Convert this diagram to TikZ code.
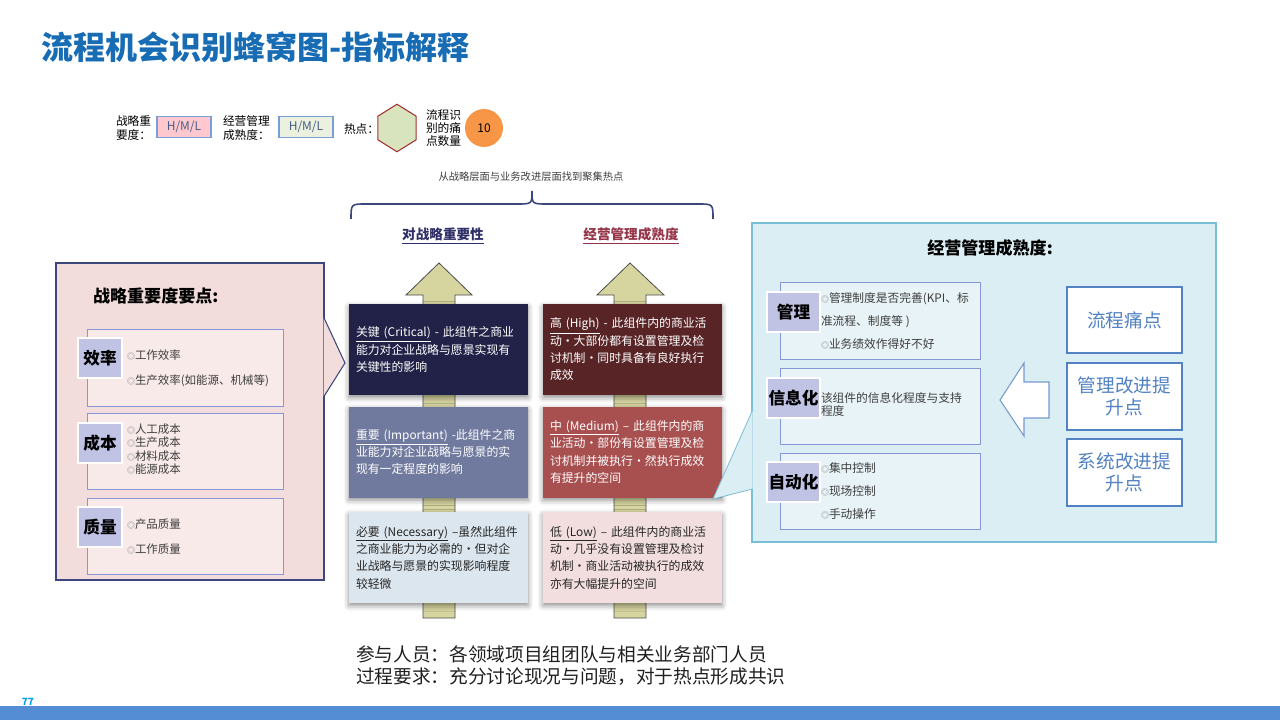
\documentclass[tikz,border=0pt]{standalone}
\usepackage{fontspec}
\setmainfont{Noto Sans CJK SC}
\usepackage{xcolor}
\usetikzlibrary{positioning, shapes.geometric, shadows.blur}
\definecolor{titleblue}{RGB}{24, 108, 180}
\definecolor{barblue}{RGB}{84, 141, 212}
\definecolor{pagecyan}{RGB}{0, 160, 233}
\definecolor{legborder}{RGB}{120, 160, 215}
\definecolor{legtext}{RGB}{70, 95, 135}
\definecolor{impfill}{RGB}{255, 199, 206}
\definecolor{matfill}{RGB}{235, 241, 222}
\definecolor{hexfill}{RGB}{215, 228, 189}
\definecolor{hexedge}{RGB}{165, 50, 50}
\definecolor{hotorange}{RGB}{247, 150, 70}
\definecolor{navybox}{RGB}{34, 34, 72}
\definecolor{slatebox}{RGB}{112, 122, 158}
\definecolor{icebox}{RGB}{219, 230, 238}
\definecolor{maroonbox}{RGB}{88, 36, 38}
\definecolor{redbox}{RGB}{168, 80, 80}
\definecolor{rosebox}{RGB}{242, 222, 222}
\definecolor{navyhead}{RGB}{48, 48, 105}
\definecolor{maroonhead}{RGB}{150, 52, 72}
\definecolor{khaki}{RGB}{214, 213, 160}
\definecolor{pinkpanel}{RGB}{242, 221, 220}
\definecolor{pinkinner}{RGB}{249, 234, 234}
\definecolor{pinkedge}{RGB}{60, 72, 125}
\definecolor{bluepanel}{RGB}{219, 238, 243}
\definecolor{blueinner}{RGB}{231, 243, 247}
\definecolor{blueedge}{RGB}{120, 190, 212}
\definecolor{inneredge}{RGB}{135, 150, 215}
\definecolor{tabfill}{RGB}{192, 195, 228}
\definecolor{pointblue}{RGB}{82, 130, 195}
\definecolor{bodygray}{RGB}{62, 62, 62}
\newdimen\pu \pu=0.75pt
\newcommand\bul{{\color{gray}\fontsize{6}{6}\selectfont ◎}}

\begin{document}
\begin{tikzpicture}[x=0.75pt, y=-0.75pt,
    every node/.style={inner sep=0pt, outer sep=0pt},
    legbox/.style={draw=legborder, line width=0.9pt, minimum width=54\pu, minimum height=21\pu, text=legtext, font=\fontsize{9}{10}\selectfont},
    legtext/.style={anchor=west, align=left, font=\fontsize{8.8}{10}\selectfont},
    level/.style={minimum height=91\pu, text width=165\pu, inner xsep=7\pu, align=left, font=\fontsize{8.9}{13}\selectfont,
        blur shadow={shadow xshift=0pt, shadow yshift=-2pt, shadow blur radius=4pt, shadow opacity=45}},
    uparrow/.style={fill=khaki, draw=black!70, line width=0.6pt},
    inner/.style={draw=inneredge, line width=0.7pt},
    tab/.style={fill=tabfill, draw=white, line width=1.2pt, minimum height=40\pu, font=\fontsize{12.5}{14}\selectfont\bfseries},
    points/.style={anchor=west, align=left, text=bodygray, font=\fontsize{8.6}{18.8}\selectfont},
    headline/.style={font=\fontsize{12.8}{14}\selectfont\bfseries},
    painbox/.style={draw=pointblue, fill=white, line width=0.8pt, minimum width=115\pu, text=pointblue, align=center, font=\fontsize{14}{17}\selectfont}
]
\useasboundingbox (0,0) rectangle (1280,720);

% Title and footer
\node[anchor=west, text=titleblue, font=\fontsize{24}{28}\selectfont\bfseries] (title) at (41,47) {流程机会识别蜂窝图-指标解释};
\fill[barblue] (0,706) rectangle (1280,720);
\node[text=pagecyan, font=\fontsize{7.5}{8}\selectfont\bfseries] (pagenum) at (28,702) {77};

% Legend
\node[legtext] (impLbl) at (116,128) {战略重\\要度：};
\node[legbox, fill=impfill] (impBox) at (184,127) {H/M/L};
\node[legtext] (matLbl) at (223,128) {经营管理\\成熟度：};
\node[legbox, fill=matfill] (matBox) at (306,127) {H/M/L};
\node[legtext] (hotLbl) at (344,129) {热点：};
\node[regular polygon, regular polygon sides=6, shape border rotate=30, minimum size=44\pu, yscale=1.08,
      fill=hexfill, draw=hexedge, line width=0.8pt] (hotHex) at (397,128) {};
\node[legtext] (cntLbl) at (426,128) {流程识\\别的痛\\点数量};
\node[circle, fill=hotorange, minimum size=38\pu, font=\fontsize{9}{10}\selectfont] (cnt) at (484,128) {10};

% Two scales
\node[text=bodygray, font=\fontsize{7.7}{9}\selectfont] (caption) at (531,177) {从战略层面与业务改进层面找到聚集热点};
\draw[pinkedge, line width=1.2pt] (351,219) .. controls (351,204) .. (366,204) -- (517,204)
    .. controls (532,204) .. (532,191) .. controls (532,204) .. (547,204) -- (698,204)
    .. controls (713,204) .. (713,219);
\node[headline, text=navyhead, font=\fontsize{10.2}{12}\selectfont\bfseries] (impHead) at (443,236) {\underline{对战略重要性}};
\node[headline, text=maroonhead, font=\fontsize{10.2}{12}\selectfont\bfseries] (matHead) at (631,236) {\underline{经营管理成熟度}};

\draw[uparrow] (423,618) -- (423,295) -- (406,295) -- (439,263) -- (472,295) -- (455,295) -- (455,618) -- cycle;
\draw[uparrow] (614,618) -- (614,295) -- (597,295) -- (630,263) -- (664,295) -- (646,295) -- (646,618) -- cycle;

\node[level, fill=navybox, text=white] (critical) at (438.5,349.5)
    {\underline{关键~(Critical)}~-~此组件之商业\\能力对企业战略与愿景实现有\\关键性的影响};
\node[level, fill=slatebox, text=white] (important) at (438.5,452)
    {\underline{重要~(Important)}~-此组件之商\\业能力对企业战略与愿景的实\\现有一定程度的影响};
\node[level, fill=icebox, text=black!85] (necessary) at (438.5,557.5)
    {\underline{必要~(Necessary)}~–虽然此组件\\之商业能力为必需的・但对企\\业战略与愿景的实现影响程度\\较轻微};
\node[level, fill=maroonbox, text=white] (high) at (632.5,349.5)
    {\underline{高~(High)}~-~此组件内的商业活\\动・大部份都有设置管理及检\\讨机制・同时具备有良好执行\\成效};
\node[level, fill=redbox, text=white] (medium) at (632.5,452)
    {\underline{中~(Medium)}~–~此组件内的商\\业活动・部份有设置管理及检\\讨机制并被执行・然执行成效\\有提升的空间};
\node[level, fill=rosebox, text=black!85] (low) at (632.5,557.5)
    {\underline{低~(Low)}~–~此组件内的商业活\\动・几乎没有设置管理及检讨\\机制・商业活动被执行的成效\\亦有大幅提升的空间};

% Strategic importance panel
\begin{scope}
    \node[fill=pinkpanel, draw=pinkedge, line width=0.8pt, minimum width=268\pu, minimum height=317\pu] (impPanel) at (190,421.5) {};
    \path[fill=pinkpanel, draw=pinkedge, line width=0.8pt] (323.6,317) -- (345,363) -- (323.6,397);
    \node[headline, anchor=west] (impTitle) at (93,296) {战略重要度要点:};

    \node[inner, fill=pinkinner, minimum width=196\pu, minimum height=77\pu] (effBox) at (185,367.5) {};
    \node[inner, fill=pinkinner, minimum width=196\pu, minimum height=76\pu] (costBox) at (185,451) {};
    \node[inner, fill=pinkinner, minimum width=196\pu, minimum height=76\pu] (qualBox) at (185,536) {};

    \node[tab, minimum width=44\pu] (effTab) at (100,358) {效率};
    \node[tab, minimum width=44\pu] (costTab) at (100,443) {成本};
    \node[tab, minimum width=44\pu] (qualTab) at (100,527) {质量};

    \node[points] (effPts) at (127,368.5) {\bul 工作效率\\\bul 生产效率(如能源、机械等)};
    \node[points, font=\fontsize{8.6}{10.1}\selectfont] (costPts) at (127,449) {\bul 人工成本\\\bul 生产成本\\\bul 材料成本\\\bul 能源成本};
    \node[points] (qualPts) at (127,536.5) {\bul 产品质量\\\bul 工作质量};
\end{scope}

% Management maturity panel
\begin{scope}
    \node[fill=bluepanel, draw=blueedge, line width=0.8pt, minimum width=464\pu, minimum height=319\pu] (matPanel) at (984,382.5) {};
    \path[fill=bluepanel, draw=blueedge, line width=0.6pt] (752.6,410) -- (713,499) -- (752.6,489);
    \node[headline] (matTitle) at (990,248) {经营管理成熟度:};

    \node[inner, fill=blueinner, minimum width=200\pu, minimum height=77\pu] (mgmtBox) at (880,320.5) {};
    \node[inner, fill=blueinner, minimum width=200\pu, minimum height=76\pu] (infoBox) at (880,406) {};
    \node[inner, fill=blueinner, minimum width=200\pu, minimum height=76\pu] (autoBox) at (880,491) {};

    \node[tab, minimum width=53\pu] (mgmtTab) at (793.5,312) {管理};
    \node[tab, minimum width=53\pu] (infoTab) at (793.5,398) {信息化};
    \node[tab, minimum width=53\pu] (autoTab) at (793.5,482) {自动化};

    \node[points, font=\fontsize{8.8}{17.3}\selectfont] (mgmtPts) at (821,321) {\bul 管理制度是否完善(KPI、标\\准流程、制度等 )\\\bul 业务绩效作得好不好};
    \node[points, font=\fontsize{8.8}{9.8}\selectfont] (infoPts) at (821,404.5) {该组件的信息化程度与支持\\程度};
    \node[points, font=\fontsize{8.8}{17.3}\selectfont] (autoPts) at (821,491) {\bul 集中控制\\\bul 现场控制\\\bul 手动操作};

    \node[painbox, minimum height=66\pu] (painPt) at (1124.5,320) {流程痛点};
    \node[painbox, minimum height=67\pu] (mgmtPt) at (1124.5,396.5) {管理改进提\\升点};
    \node[painbox, minimum height=67\pu] (sysPt) at (1124.5,472.5) {系统改进提\\升点};

    \draw[draw=pointblue!80, fill=white, line width=0.8pt] (1000,400) -- (1024,363) -- (1024,382) -- (1049,382)
        -- (1049,418) -- (1024,418) -- (1024,436) -- cycle;
\end{scope}

% Notes
\node[anchor=west, align=left, text=black!88, font=\fontsize{14}{16.5}\selectfont] (notes) at (356,666)
    {参与人员：各领域项目组团队与相关业务部门人员\\过程要求：充分讨论现况与问题，对于热点形成共识};

\end{tikzpicture}
\end{document}
